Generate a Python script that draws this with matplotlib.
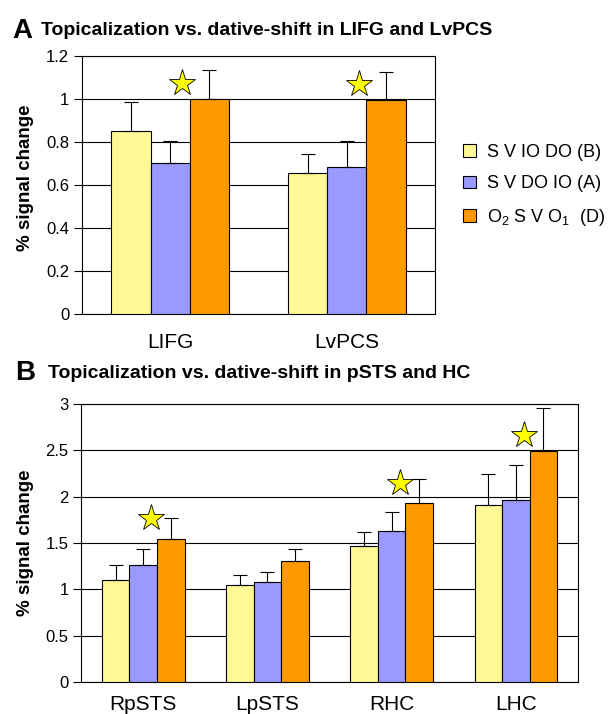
import matplotlib
matplotlib.use("Agg")
import matplotlib.pyplot as plt
import numpy as np
from matplotlib.patches import Patch

plt.rcParams['font.family'] = ['Liberation Sans', 'DejaVu Sans']
plt.rcParams['mathtext.fontset'] = 'custom'
plt.rcParams['mathtext.rm'] = 'Liberation Sans'
plt.rcParams['mathtext.it'] = 'Liberation Sans'

series_labels = ['S V IO DO (B)', 'S V DO IO (A)', 'O$_2$ S V O$_1$  (D)']
colors = ['#FFF995', '#9999FF', '#FF9900']

cats_a = ['LIFG', 'LvPCS']
vals_a = [[0.853, 0.656], [0.702, 0.682], [1.0, 0.995]]
err_a = [[0.132, 0.088], [0.103, 0.124], [0.136, 0.132]]
stars_a = [1.075, 1.07]

cats_b = ['RpSTS', 'LpSTS', 'RHC', 'LHC']
vals_b = [[1.105, 1.052, 1.466, 1.906],
          [1.265, 1.077, 1.630, 1.964],
          [1.548, 1.302, 1.933, 2.497]]
err_b = [[0.162, 0.100, 0.157, 0.343],
         [0.170, 0.110, 0.202, 0.374],
         [0.219, 0.130, 0.258, 0.456]]
stars_b = [1.77, 0.0, 2.15, 2.67]
star_mask_b = [True, False, True, True]

fig = plt.figure(figsize=(6.11, 7.14), dpi=100)

w = 0.222

def draw(ax, cats, vals, errs, ymax, ystep, stars, mask, xpad):
    x = np.arange(len(cats))
    for i in range(3):
        xs = x + (i - 1) * w
        ax.bar(xs, vals[i], width=w, color=colors[i], edgecolor='black',
               linewidth=0.8, zorder=3)
        ax.errorbar(xs, vals[i], yerr=[np.zeros(len(cats)), errs[i]], fmt='none',
                    ecolor='black', elinewidth=0.8, capsize=5, capthick=0.8, zorder=4)
    for j, s in enumerate(stars):
        if mask[j]:
            ax.plot(x[j] + 0.3 * w, s, marker='*', markersize=20,
                    markerfacecolor='#FFFF00', markeredgecolor='black',
                    markeredgewidth=0.6, zorder=5, linestyle='none')
    ax.set_xlim(-0.5, len(cats) - 0.5)
    ax.set_ylim(0, ymax)
    ticks = np.arange(0, ymax + ystep / 2, ystep)
    ax.set_yticks(ticks)
    ax.set_yticklabels([('%g' % t) for t in ticks], fontsize=12)
    ax.yaxis.grid(True, color='black', linewidth=0.8, zorder=0)
    ax.set_axisbelow(True)
    ax.set_xticks(x)
    ax.set_xticklabels(cats, fontsize=15)
    ax.tick_params(axis='x', length=0, pad=xpad)
    ax.tick_params(axis='y', length=6, width=0.8, pad=3)
    for sp in ax.spines.values():
        sp.set_linewidth(0.8)
        sp.set_color('black')
    ax.set_ylabel('% signal change', fontsize=13.5, fontweight='bold')

axA = fig.add_axes([0.134, 0.5602, 0.578, 0.3614])
draw(axA, cats_a, vals_a, err_a, 1.2, 0.2, stars_a, [True, True], 14)
axA.yaxis.set_label_coords(-0.135, 0.53)

axB = fig.add_axes([0.1326, 0.0448, 0.8134, 0.3894])
draw(axB, cats_b, vals_b, err_b, 3.0, 0.5, stars_b, star_mask_b, 9)
axB.yaxis.set_label_coords(-0.094, 0.5)

handles = [Patch(facecolor=c, edgecolor='black', linewidth=0.8) for c in colors]
fig.legend(handles, series_labels, loc='center left',
           bbox_to_anchor=(0.7316, 0.7395), frameon=False, fontsize=13,
           handlelength=0.7, handleheight=0.7, handletextpad=0.6,
           labelspacing=0.8)

fig.text(0.02, 0.957, 'A', fontsize=20, fontweight='bold', va='center')
fig.text(0.067, 0.957, 'Topicalization vs. dative-shift in LIFG and LvPCS',
         fontsize=14, fontweight='bold', va='center',
         family=['Liberation Sans Narrow', 'Liberation Sans'])
fig.text(0.025, 0.477, 'B', fontsize=20, fontweight='bold', va='center')
fig.text(0.079, 0.477, 'Topicalization vs. dative-shift in pSTS and HC',
         fontsize=14, fontweight='bold', va='center',
         family=['Liberation Sans Narrow', 'Liberation Sans'])

fig.savefig('out.png', dpi=100)
